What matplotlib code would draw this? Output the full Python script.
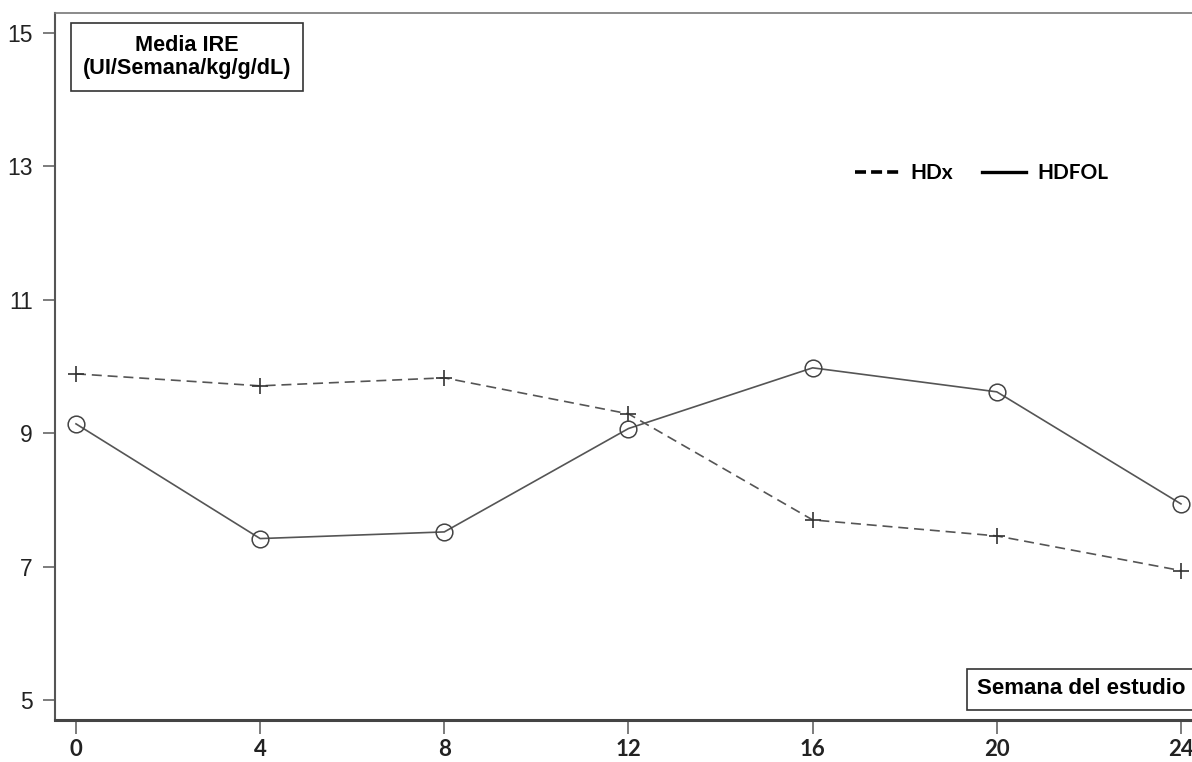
import matplotlib
matplotlib.use("Agg")
import matplotlib.pyplot as plt
from matplotlib.lines import Line2D

weeks = [0, 4, 8, 12, 16, 20, 24]
hdx = [9.89, 9.71, 9.83, 9.29, 7.70, 7.46, 6.94]
hdfol = [9.14, 7.42, 7.52, 9.07, 9.98, 9.62, 7.94]
yticks = [5, 7, 9, 11, 13, 15]

fig = plt.figure(figsize=(11.92, 7.62), dpi=100)
ax = fig.add_axes([55 / 1192, 1 - 720 / 762, 1 - 55 / 1192, (720 - 13) / 762])

line_col = "#555555"
ax.plot(weeks, hdx, linestyle=(0, (6, 3.5)), color=line_col, lw=1.2,
        marker="+", markersize=12, markeredgewidth=1.2, markeredgecolor="#333333")
ax.plot(weeks, hdfol, linestyle="-", color=line_col, lw=1.2,
        marker="o", markersize=12, markerfacecolor="none",
        markeredgewidth=1.1, markeredgecolor="#444444")

ax.set_xlim(-0.456, 24.24)
ax.set_ylim(4.70, 15.3)
ax.set_xticks(weeks)
ax.set_yticks(yticks)
ax.set_xticklabels([str(w) for w in weeks], fontfamily="Lato", fontweight="bold",
                   fontsize=16, color="#222222")
ax.set_yticklabels([str(t) for t in yticks], fontfamily="Liberation Sans",
                   fontsize=16.5, color="#222222")
ax.tick_params(axis="x", length=10, width=1.2, color="#666666", pad=4)
ax.tick_params(axis="y", length=9, width=1.2, color="#666666", pad=7)

ax.spines["right"].set_visible(False)
ax.spines["top"].set_color("#777777")
ax.spines["top"].set_linewidth(1.2)
ax.spines["left"].set_color("#555555")
ax.spines["left"].set_linewidth(1.5)
ax.spines["bottom"].set_color("#444444")
ax.spines["bottom"].set_linewidth(2.2)

ax.text((187 - 55) / (1192 - 55), 1 - (57 - 13) / 707,
        "Media IRE\n(UI/Semana/kg/g/dL)", transform=ax.transAxes, ha="center", va="center",
        fontfamily="Liberation Sans", fontweight="bold", fontsize=15.6, linespacing=1.18,
        bbox=dict(boxstyle="square,pad=0.55", facecolor="white", edgecolor="#333333", linewidth=1.2))
ax.text((977 - 55) / (1192 - 55), 1 - (689 - 13) / 707, "Semana del estudio",
        transform=ax.transAxes, ha="left", va="center",
        fontfamily="Liberation Sans", fontweight="bold", fontsize=16,
        bbox=dict(boxstyle="square,pad=0.45", facecolor="white", edgecolor="#333333", linewidth=1.2))

handles = [Line2D([], [], color="black", lw=2.6, linestyle=(0, (3.05, 1.4))),
           Line2D([], [], color="black", lw=2.4, linestyle="-")]
leg = ax.legend(handles, ["HDx", "HDFOL"], ncol=2, frameon=False,
                loc="center left", bbox_to_anchor=((836 - 55) / (1192 - 55), 1 - (173 - 13) / 707),
                handlelength=2.1, handletextpad=0.55, columnspacing=1.4,
                prop={"family": "Lato", "weight": "bold", "size": 15})

fig.savefig("out.png", dpi=100)
